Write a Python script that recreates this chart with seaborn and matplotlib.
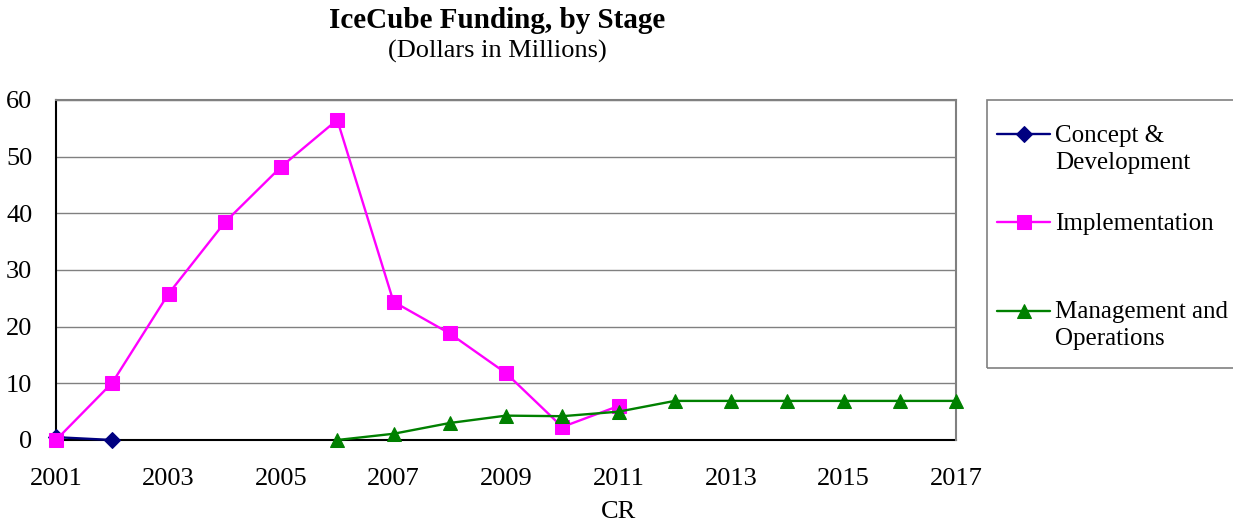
import matplotlib
matplotlib.use("Agg")
import matplotlib.pyplot as plt
import seaborn as sns
import pandas as pd
from matplotlib.legend_handler import HandlerLine2D
from matplotlib.patches import Rectangle

# Funding by stage, dollars in millions
concept_years = [2001, 2002]
concept_values = [0.5, 0.0]

impl_years = [2001, 2002, 2003, 2004, 2005, 2006, 2007, 2008, 2009, 2010, 2011]
impl_values = [0.0, 10.1, 25.8, 38.4, 48.2, 56.5, 24.4, 18.8, 11.8, 2.3, 6.0]

mo_years = [2006, 2007, 2008, 2009, 2010, 2011, 2012, 2013, 2014, 2015, 2016, 2017]
mo_values = [0.0, 1.1, 3.0, 4.3, 4.2, 5.0, 6.9, 6.9, 6.9, 6.9, 6.9, 6.9]

series_labels = ["Concept &\nDevelopment", "Implementation", "Management and\nOperations"]
xtick_years = [2001, 2003, 2005, 2007, 2009, 2011, 2013, 2015, 2017]
ytick_values = [0, 10, 20, 30, 40, 50, 60]

sns.set_style("white")
plt.rcParams["font.family"] = ["Liberation Serif", "DejaVu Serif"]
plt.rcParams["text.color"] = "black"
plt.rcParams["xtick.color"] = "black"
plt.rcParams["ytick.color"] = "black"
plt.rcParams["axes.labelcolor"] = "black"

fig = plt.figure(figsize=(12.33, 5.25), dpi=100)
ax = fig.add_axes([56 / 1233, 1 - 440 / 525, 900 / 1233, 340 / 525])

series = [
    (concept_years, concept_values, "#000080", "D", 8.5),
    (impl_years, impl_values, "#FF00FF", "s", 10),
    (mo_years, mo_values, "#008000", "^", 10),
]
for yrs, vals, col, mk, ms in series:
    df = pd.DataFrame({"year": yrs, "value": vals})
    sns.lineplot(data=df, x="year", y="value", ax=ax, color=col, marker=mk,
                 markersize=ms, markeredgecolor=col, linewidth=1.7,
                 clip_on=False, legend=False, zorder=3)

ax.set_xlim(2001, 2017)
ax.set_ylim(0, 60)
ax.set_xticks(xtick_years)
ax.set_xticklabels([str(y) for y in xtick_years])
ax.set_yticks(ytick_values)
ax.tick_params(axis="both", length=0, labelsize=19, colors="black")
ax.tick_params(axis="x", pad=20)
ax.tick_params(axis="y", pad=17)
ax.yaxis.grid(True, color="#808080", linewidth=1)
ax.xaxis.grid(False)
ax.set_axisbelow(True)

for side in ("left", "bottom"):
    ax.spines[side].set_color("black")
    ax.spines[side].set_linewidth(1.5)
    ax.spines[side].set_zorder(2)
for side in ("top", "right"):
    ax.spines[side].set_color("#808080")
    ax.spines[side].set_linewidth(1.5)

ax.set_xlabel("CR", fontsize=19)
ax.xaxis.set_label_coords((619 - 56) / 900, (440 - 512) / 340)
ax.xaxis.label.set_verticalalignment("center")
ax.set_ylabel("")

fig.text(497 / 1233, 1 - 20 / 525, "IceCube Funding, by Stage", ha="center",
         va="center", fontsize=21, fontweight="bold")
fig.text(497 / 1233, 1 - 51 / 525, "(Dollars in Millions)", ha="center",
         va="center", fontsize=19)


class FirstLineHandler(HandlerLine2D):
    """Place the legend key level with the first line of a two-line label."""

    def __init__(self, shift, **kw):
        super().__init__(**kw)
        self.shift = shift

    def create_artists(self, legend, orig_handle, xdescent, ydescent, width,
                       height, fontsize, trans):
        return super().create_artists(legend, orig_handle, xdescent,
                                      ydescent - self.shift, width, height,
                                      fontsize, trans)


# every entry occupies two text lines so the rows are evenly spaced
handles = ax.get_lines()[:3]
leg_labels = [series_labels[0], series_labels[1] + "\n", series_labels[2]]
shift_pt = 21.7
leg = fig.legend(handles, leg_labels, loc="upper left",
                 bbox_to_anchor=(997 / 1233, 1 - 125 / 525),
                 frameon=False, fontsize=18,
                 handlelength=2.12, handletextpad=0.2, labelspacing=1.57,
                 borderpad=0, borderaxespad=0,
                 handler_map={h: FirstLineHandler(shift_pt) for h in handles})
for t in leg.get_texts():
    t.set_linespacing(1.29)

# legend border
fig.add_artist(Rectangle((987 / 1233, 1 - 368 / 525), 260 / 1233, 268 / 525,
                         transform=fig.transFigure, fill=False,
                         edgecolor="#808080", linewidth=1.2, clip_on=False))

fig.savefig("out.png", dpi=100)
